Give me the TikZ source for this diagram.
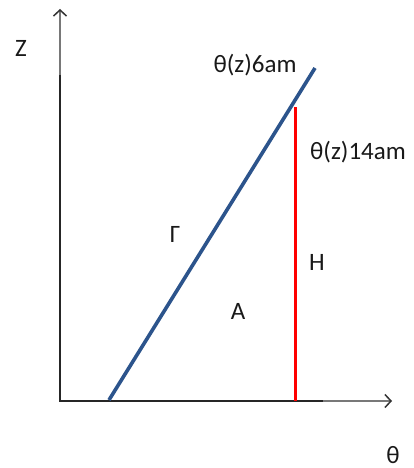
\documentclass[tikz,border=0pt]{standalone}
\usepackage{fontspec}
\setmainfont{Carlito}
\usetikzlibrary{arrows.meta}
\definecolor{lineblue}{RGB}{44,84,140}
\definecolor{axisgray}{RGB}{120,120,120}
\begin{document}
\begin{tikzpicture}[x=1pt,y=-1pt,
  axis/.style={draw=axisgray,line width=1.6pt,-{Straight Barb[length=6pt,width=13pt,line width=1.5pt,color=black!80]}},
  frame/.style={draw=black!85,line width=1.6pt},
  lbl/.style={font=\fontsize{25}{30}\selectfont,inner sep=0pt,text=black!90}]
\useasboundingbox (0,0) rectangle (414,468);
\fill[white] (0,0) rectangle (414,468);
\coordinate (O) at (60,401);
\coordinate (ztip) at (60,9);
\coordinate (ttip) at (392,401);
\coordinate (zk) at (60,75);
\coordinate (tk) at (323,401);
\coordinate (b0) at (109,400);
\coordinate (b1) at (315,68);
\coordinate (r0) at (295,401);
\coordinate (r1) at (295,107);
\draw[axis] (O) -- (ztip);
\draw[axis] (O) -- (ttip);
\draw[frame] (zk) -- (O) -- (tk);
\draw[lineblue,line width=3.6pt] (b0) -- (b1);
\draw[red,line width=3pt] (r0) -- (r1);
\node[lbl] (Z) at (21,48) {Z};
\node[lbl] (th) at (393,455) {θ};
\node[lbl] (t6) at (255,65) {θ(z)6am};
\node[lbl] (t14) at (358,152) {θ(z)14am};
\node[lbl] (G) at (175,234) {Γ};
\node[lbl] (H) at (317,262) {H};
\node[lbl] (A) at (238,311) {A};
\end{tikzpicture}
\end{document}
